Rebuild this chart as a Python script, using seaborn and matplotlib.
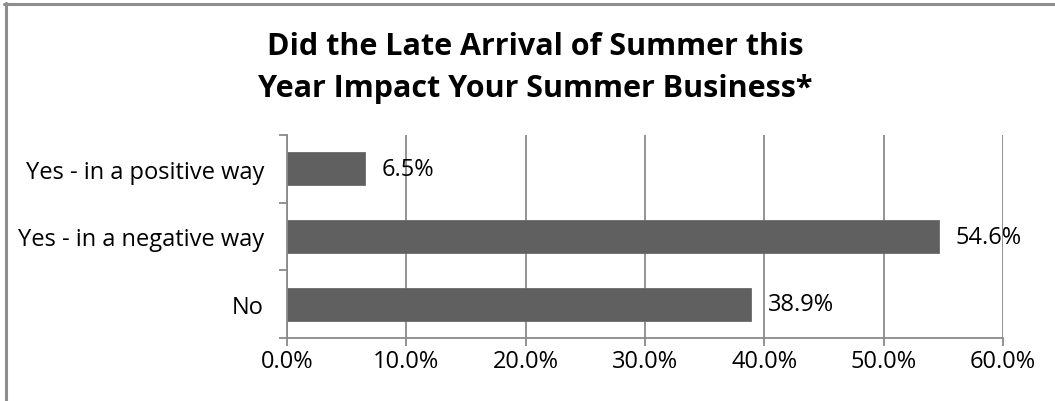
import matplotlib
matplotlib.use("Agg")
import matplotlib.pyplot as plt
import seaborn as sns
import pandas as pd
from matplotlib.lines import Line2D
from matplotlib.ticker import FixedLocator, PercentFormatter

categories = ["Yes - in a positive way", "Yes - in a negative way", "No"]
values = [6.5, 54.6, 38.9]
value_labels = ["6.5%", "54.6%", "38.9%"]
x_ticks = [0, 10, 20, 30, 40, 50, 60]
title = "Did the Late Arrival of Summer this\nYear Impact Your Summer Business*"

sns.set_theme(style="white")
plt.rcParams['font.family'] = ['Open Sans', 'DejaVu Sans']

W, H = 1055, 402
fig = plt.figure(figsize=(W / 100, H / 100), dpi=100)
fig.patch.set_facecolor("white")

# outer border (left and top visible)
border_c = "#8e8e8e"
fig.add_artist(Line2D([5.5 / W, 5.5 / W], [0, 1 - 4 / H], transform=fig.transFigure, color=border_c, lw=2.2))
fig.add_artist(Line2D([4 / W, 1], [1 - 5 / H, 1 - 5 / H], transform=fig.transFigure, color=border_c, lw=2.2))

left, right, top, bottom = 287, 1003, 136, 339
ax = fig.add_axes([left / W, 1 - bottom / H, (right - left) / W, (bottom - top) / H])

df = pd.DataFrame({"cat": categories, "val": values})
sns.barplot(data=df, y="cat", x="val", orient="h", ax=ax, color="#606060",
            width=0.49, edgecolor="#6a6a6a", linewidth=0.6, saturation=1)

grid_c = "#8a8a8a"
ax.set_xlim(0, 60)
ax.set_ylim(2.5, -0.5)
ax.xaxis.set_major_locator(FixedLocator(x_ticks))
ax.xaxis.set_major_formatter(PercentFormatter(decimals=1))
ax.grid(axis="x", color=grid_c, lw=1.3)
ax.set_axisbelow(True)
for s in ["top", "right"]:
    ax.spines[s].set_visible(False)
for s in ["left", "bottom"]:
    ax.spines[s].set_color(grid_c)
    ax.spines[s].set_linewidth(1.3)

fs = 17
ax.yaxis.set_minor_locator(FixedLocator([-0.5, 0.5, 1.5, 2.5]))
ax.tick_params(axis="y", which="minor", left=True, length=5.5, width=1.3, color=grid_c)
ax.tick_params(axis="y", which="major", left=False, length=0, pad=16.5, labelsize=fs, labelcolor="black")
ax.tick_params(axis="x", which="major", bottom=True, length=6, width=1.3, color=grid_c,
               pad=2, labelsize=fs, labelcolor="black")
ax.set_xlabel("")
ax.set_ylabel("")

for i, (v, lab) in enumerate(zip(values, value_labels)):
    ax.annotate(lab, xy=(v, i), xytext=(12.2, 0), textcoords="offset points",
                va="center", ha="left", fontsize=fs, color="black")

fig.text(535 / W, 1 - 68 / H, title, ha="center", va="center", fontsize=22,
         fontweight="bold", color="black", linespacing=1.55)

fig.savefig("out.png", dpi=100, facecolor="white")
